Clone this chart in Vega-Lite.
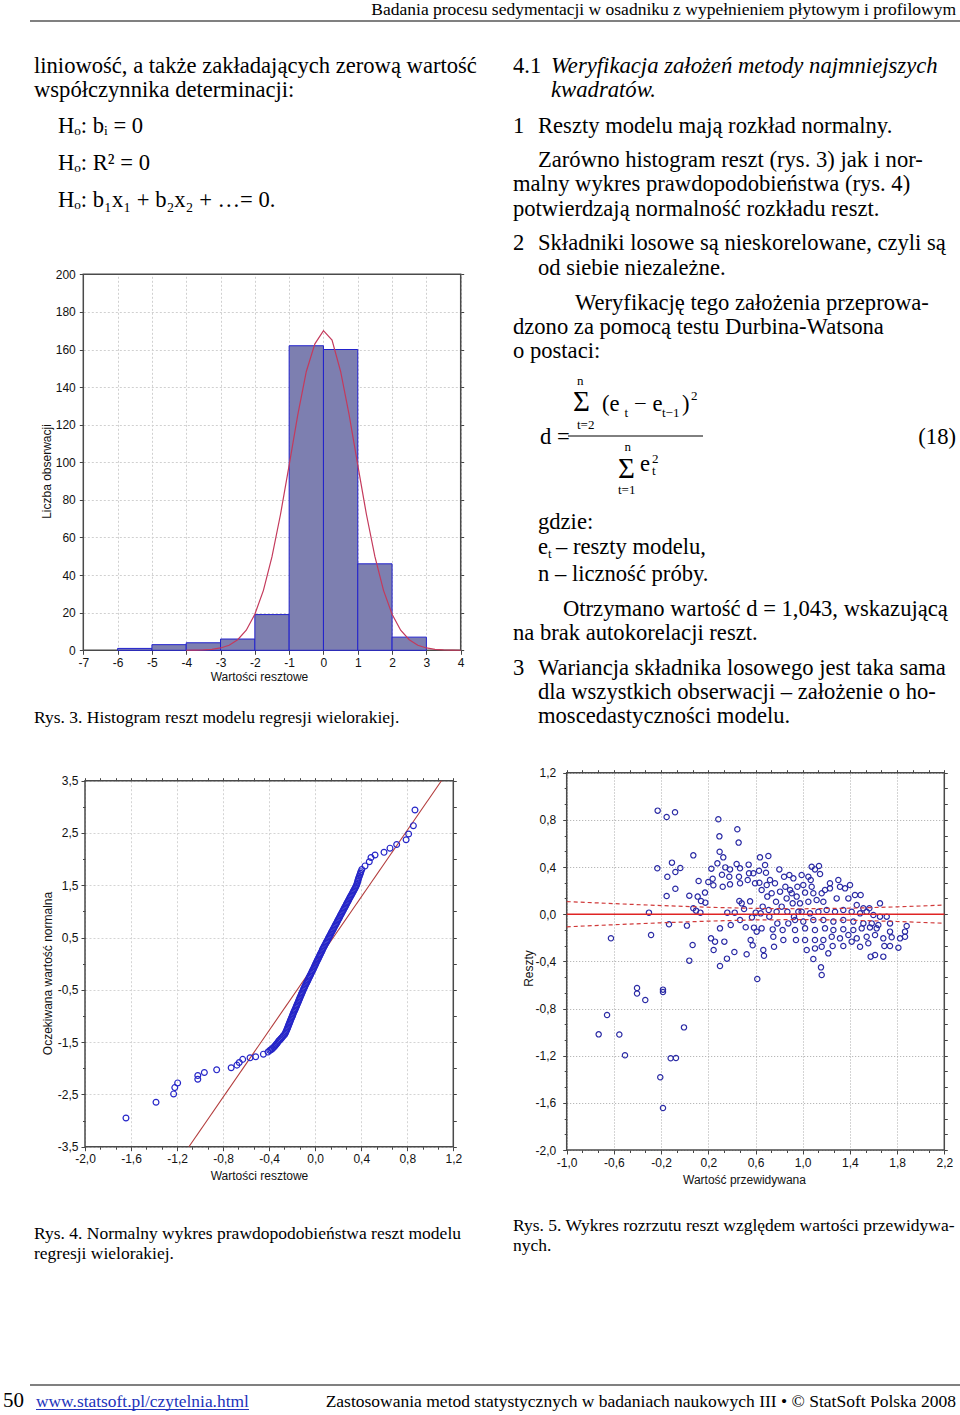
{
"$schema": "https://vega.github.io/schema/vega-lite/v6.json",
"width": 960, "height": 1415,
"autosize": {"type": "none"},
"padding": 0,
"background": "white",
"config": {
  "view": {"stroke": null},
  "locale": {"number": {"decimal": ",", "thousands": " ", "grouping": [3], "currency": ["", " zł"], "minus": "-"}},
  "axis": {"labelFont": "Liberation Sans", "labelFontSize": 12, "labelColor": "#111", "titleFont": "Liberation Sans", "titleFontSize": 12, "titleFontWeight": "normal", "titleColor": "#111", "tickColor": "#444", "tickSize": 4, "labelPadding": 3, "domain": false, "labelOverlap": false, "labelFlush": false, "gridWidth": 1}
},
"datasets": {
  "body": [
    {"t": "liniowość, a także zakładających zerową wartość", "c": 2, "r": 2},
    {"t": "współczynnika determinacji:", "c": 2, "r": 3},
    {"t": "Hₒ: bᵢ = 0", "c": 4, "r": 4},
    {"t": "Hₒ: R² = 0", "c": 4, "r": 6},
    {"t": "Hₒ: b₁x₁ + b₂x₂ + …= 0.", "c": 4, "r": 8},
    {"t": "4.1", "c": 6, "r": 2},
    {"t": "1", "c": 6, "r": 4},
    {"t": "Reszty modelu mają rozkład normalny.", "c": 7, "r": 4},
    {"t": "Zarówno histogram reszt (rys. 3) jak i nor-", "c": 7, "r": 5},
    {"t": "malny wykres prawdopodobieństwa (rys. 4)", "c": 6, "r": 7},
    {"t": "potwierdzają normalność rozkładu reszt.", "c": 6, "r": 9},
    {"t": "2", "c": 6, "r": 10},
    {"t": "Składniki losowe są nieskorelowane, czyli są", "c": 7, "r": 10},
    {"t": "od siebie niezależne.", "c": 7, "r": 11},
    {"t": "Weryfikację tego założenia przeprowa-", "c": 15, "r": 12},
    {"t": "dzono za pomocą testu Durbina-Watsona", "c": 6, "r": 13},
    {"t": "o postaci:", "c": 6, "r": 14},
    {"t": "d =", "c": 8, "r": 21},
    {"t": "(e", "c": 17, "r": 17},
    {"t": "− e", "c": 20, "r": 17},
    {"t": ")", "c": 24, "r": 17},
    {"t": "e", "c": 21, "r": 24},
    {"t": "gdzie:", "c": 7, "r": 28},
    {"t": "e", "c": 7, "r": 29},
    {"t": "– reszty modelu,", "c": 11, "r": 29},
    {"t": "n – liczność próby.", "c": 7, "r": 31},
    {"t": "Otrzymano wartość d = 1,043, wskazującą", "c": 12, "r": 32},
    {"t": "na brak autokorelacji reszt.", "c": 6, "r": 33},
    {"t": "3", "c": 6, "r": 34},
    {"t": "Wariancja składnika losowego jest taka sama", "c": 7, "r": 34},
    {"t": "dla wszystkich obserwacji – założenie o ho-", "c": 7, "r": 35},
    {"t": "moscedastyczności modelu.", "c": 7, "r": 36}
  ],
  "bodyRight": [{"t": "(18)", "c": 27, "r": 21}],
  "italic": [
    {"t": "Weryfikacja założeń metody najmniejszych", "c": 10, "r": 2},
    {"t": "kwadratów.", "c": 10, "r": 3}
  ],
  "small": [
    {"t": "n", "c": 16, "r": 15}, {"t": "t=2", "c": 16, "r": 19}, {"t": "t", "c": 19, "r": 18},
    {"t": "t−1", "c": 23, "r": 18}, {"t": "2", "c": 25, "r": 16}, {"t": "n", "c": 19, "r": 22},
    {"t": "2", "c": 22, "r": 23}, {"t": "t", "c": 22, "r": 25}, {"t": "t=1", "c": 18, "r": 27},
    {"t": "t", "c": 9, "r": 30}
  ],
  "sigma": [{"t": "Σ", "c": 14, "r": 17}, {"t": "Σ", "c": 18, "r": 26}],
  "caption": [
    {"t": "Rys. 3. Histogram reszt modelu regresji wielorakiej.", "c": 2, "r": 36},
    {"t": "Rys. 4. Normalny wykres prawdopodobieństwa reszt modelu", "c": 2, "r": 38},
    {"t": "regresji wielorakiej.", "c": 2, "r": 40},
    {"t": "Rys. 5. Wykres rozrzutu reszt względem wartości przewidywa-", "c": 6, "r": 37},
    {"t": "nych.", "c": 6, "r": 39}
  ],
  "running": [
    {"t": "Badania procesu sedymentacji w osadniku z wypełnieniem płytowym i profilowym", "c": 27, "r": 0},
    {"t": "Zastosowania metod statystycznych w badaniach naukowych III • © StatSoft Polska 2008", "c": 27, "r": 42}
  ],
  "pagenum": [{"t": "50", "c": 0, "r": 42}],
  "link": [{"t": "www.statsoft.pl/czytelnia.html", "c": 3, "r": 42}],
  "grayRules": [{"c": 1, "c2": 28, "r": 1}, {"c": 1, "c2": 28, "r": 41}],
  "fracRule": [{"c": 13, "c2": 26, "r": 20}],
  "linkRule": [{"c": 3, "c2": 5, "r": 43}],
  "hist": [
    {"lo": -6, "hi": -5, "n": 1}, {"lo": -5, "hi": -4, "n": 3}, {"lo": -4, "hi": -3, "n": 4},
    {"lo": -3, "hi": -2, "n": 6}, {"lo": -2, "hi": -1, "n": 19}, {"lo": -1, "hi": 0, "n": 162},
    {"lo": 0, "hi": 1, "n": 160}, {"lo": 1, "hi": 2, "n": 46}, {"lo": 2, "hi": 3, "n": 7}
  ],
  "curve": [
    {"x": -4, "f": 0.03}, {"x": -3.75, "f": 0.08}, {"x": -3.5, "f": 0.21}, {"x": -3.25, "f": 0.53},
    {"x": -3, "f": 1.25}, {"x": -2.75, "f": 2.7}, {"x": -2.5, "f": 5.6}, {"x": -2.25, "f": 10.7},
    {"x": -2, "f": 19.2}, {"x": -1.75, "f": 31.9}, {"x": -1.5, "f": 49.8}, {"x": -1.25, "f": 72.5},
    {"x": -1, "f": 98.5}, {"x": -0.75, "f": 125.1}, {"x": -0.5, "f": 148.3}, {"x": -0.25, "f": 163},
    {"x": 0, "f": 170}, {"x": 0.25, "f": 165}, {"x": 0.5, "f": 148.3}, {"x": 0.75, "f": 125.1},
    {"x": 1, "f": 98.5}, {"x": 1.25, "f": 72.5}, {"x": 1.5, "f": 49.8}, {"x": 1.75, "f": 31.9},
    {"x": 2, "f": 19.2}, {"x": 2.25, "f": 10.7}, {"x": 2.5, "f": 5.6}, {"x": 2.75, "f": 2.7},
    {"x": 3, "f": 1.25}, {"x": 3.25, "f": 0.53}, {"x": 3.5, "f": 0.21}, {"x": 3.75, "f": 0.08}, {"x": 4, "f": 0.03}
  ],
  "nline": [{"r": -1.097, "z": -3.5}, {"r": 1.097, "z": 3.5}],
  "npp": [
    {"r":-1.644,"z":-2.95},{"r":-1.383,"z":-2.65},{"r":-1.23,"z":-2.49},{"r":-1.22,"z":-2.37},{"r":-1.195,"z":-2.28},
    {"r":-1.02,"z":-2.21},{"r":-1.02,"z":-2.14},{"r":-0.963,"z":-2.08},{"r":-0.856,"z":-2.03},{"r":-0.73,"z":-1.99},
    {"r":-0.68,"z":-1.94},{"r":-0.66,"z":-1.89},{"r":-0.63,"z":-1.83},{"r":-0.566,"z":-1.8},{"r":-0.517,"z":-1.78},
    {"r":-0.45,"z":-1.73},{"r":-0.41,"z":-1.69},
    {"r":-0.395,"z":-1.66},{"r":-0.385,"z":-1.645},{"r":-0.375,"z":-1.63},{"r":-0.37,"z":-1.615},{"r":-0.36,"z":-1.6},
    {"r":-0.352,"z":-1.58},{"r":-0.345,"z":-1.56},{"r":-0.338,"z":-1.54},{"r":-0.33,"z":-1.52},{"r":-0.322,"z":-1.495},
    {"r":-0.315,"z":-1.475},{"r":-0.305,"z":-1.455},{"r":-0.298,"z":-1.435},{"r":-0.29,"z":-1.415},{"r":-0.282,"z":-1.395},
    {"r":-0.275,"z":-1.375},{"r":-0.265,"z":-1.355},{"r":-0.26,"z":-1.33},{"r":-0.255,"z":-1.305},{"r":-0.25,"z":-1.28},
    {"r":-0.245,"z":-1.255},{"r":-0.24,"z":-1.23},{"r":-0.236,"z":-1.205},{"r":-0.232,"z":-1.18},{"r":-0.228,"z":-1.16},
    {"r":-0.223,"z":-1.135},{"r":-0.219,"z":-1.11},{"r":-0.215,"z":-1.085},{"r":-0.21,"z":-1.06},{"r":-0.205,"z":-1.035},
    {"r":-0.2,"z":-1.01},{"r":-0.196,"z":-0.985},{"r":-0.192,"z":-0.96},{"r":-0.187,"z":-0.935},{"r":-0.182,"z":-0.91},
    {"r":-0.177,"z":-0.885},{"r":-0.172,"z":-0.86},{"r":-0.167,"z":-0.835},{"r":-0.162,"z":-0.81},{"r":-0.158,"z":-0.785},
    {"r":-0.153,"z":-0.76},{"r":-0.148,"z":-0.735},{"r":-0.143,"z":-0.71},{"r":-0.139,"z":-0.685},{"r":-0.134,"z":-0.66},
    {"r":-0.13,"z":-0.635},{"r":-0.124,"z":-0.61},{"r":-0.12,"z":-0.585},{"r":-0.115,"z":-0.56},{"r":-0.11,"z":-0.535},
    {"r":-0.105,"z":-0.51},{"r":-0.1,"z":-0.485},{"r":-0.095,"z":-0.46},{"r":-0.09,"z":-0.435},{"r":-0.085,"z":-0.41},
    {"r":-0.079,"z":-0.385},{"r":-0.073,"z":-0.36},{"r":-0.068,"z":-0.335},{"r":-0.062,"z":-0.31},{"r":-0.057,"z":-0.285},
    {"r":-0.051,"z":-0.26},{"r":-0.046,"z":-0.235},{"r":-0.04,"z":-0.21},{"r":-0.035,"z":-0.185},{"r":-0.029,"z":-0.16},
    {"r":-0.024,"z":-0.135},{"r":-0.018,"z":-0.11},{"r":-0.013,"z":-0.085},{"r":-0.007,"z":-0.06},{"r":-0.002,"z":-0.035},
    {"r":0.003,"z":-0.01},{"r":0.008,"z":0.015},{"r":0.014,"z":0.04},{"r":0.019,"z":0.065},{"r":0.025,"z":0.09},
    {"r":0.03,"z":0.115},{"r":0.036,"z":0.14},{"r":0.041,"z":0.165},{"r":0.047,"z":0.19},{"r":0.052,"z":0.215},
    {"r":0.058,"z":0.24},{"r":0.063,"z":0.265},{"r":0.068,"z":0.29},{"r":0.074,"z":0.315},{"r":0.08,"z":0.34},
    {"r":0.086,"z":0.365},{"r":0.092,"z":0.39},{"r":0.098,"z":0.415},{"r":0.104,"z":0.44},{"r":0.11,"z":0.465},
    {"r":0.116,"z":0.49},{"r":0.122,"z":0.515},{"r":0.128,"z":0.54},{"r":0.134,"z":0.565},{"r":0.14,"z":0.59},
    {"r":0.146,"z":0.615},{"r":0.152,"z":0.64},{"r":0.158,"z":0.665},{"r":0.164,"z":0.69},{"r":0.17,"z":0.715},
    {"r":0.176,"z":0.74},{"r":0.182,"z":0.765},{"r":0.188,"z":0.79},{"r":0.194,"z":0.815},{"r":0.2,"z":0.84},
    {"r":0.206,"z":0.865},{"r":0.212,"z":0.89},{"r":0.218,"z":0.915},{"r":0.224,"z":0.94},{"r":0.23,"z":0.965},
    {"r":0.236,"z":0.99},{"r":0.242,"z":1.015},{"r":0.248,"z":1.04},{"r":0.254,"z":1.065},{"r":0.26,"z":1.09},
    {"r":0.266,"z":1.115},{"r":0.272,"z":1.14},{"r":0.278,"z":1.165},{"r":0.284,"z":1.19},{"r":0.29,"z":1.215},
    {"r":0.296,"z":1.24},{"r":0.302,"z":1.265},{"r":0.308,"z":1.29},{"r":0.315,"z":1.315},{"r":0.321,"z":1.34},
    {"r":0.327,"z":1.365},{"r":0.333,"z":1.39},{"r":0.339,"z":1.415},{"r":0.345,"z":1.44},{"r":0.351,"z":1.465},
    {"r":0.357,"z":1.49},{"r":0.362,"z":1.52},{"r":0.366,"z":1.55},{"r":0.37,"z":1.58},{"r":0.374,"z":1.61},
    {"r":0.378,"z":1.64},{"r":0.383,"z":1.67},{"r":0.388,"z":1.7},{"r":0.393,"z":1.73},{"r":0.397,"z":1.76},
    {"r":0.405,"z":1.8},{"r":0.433,"z":1.87},{"r":0.47,"z":1.95},{"r":0.485,"z":2.03},{"r":0.52,"z":2.08},
    {"r":0.598,"z":2.13},{"r":0.65,"z":2.21},{"r":0.708,"z":2.28},{"r":0.79,"z":2.37},{"r":0.812,"z":2.48},
    {"r":0.853,"z":2.64},{"r":0.867,"z":2.94}
  ],
  "band": [
    {"p": -1, "fit": 0, "lo": -0.107, "hi": 0.107}, {"p": -0.6, "fit": 0, "lo": -0.0895, "hi": 0.0895},
    {"p": -0.2, "fit": 0, "lo": -0.0731, "hi": 0.0731}, {"p": 0.2, "fit": 0, "lo": -0.0589, "hi": 0.0589},
    {"p": 0.6, "fit": 0, "lo": -0.0488, "hi": 0.0488}, {"p": 1.0, "fit": 0, "lo": -0.0457, "hi": 0.0457},
    {"p": 1.4, "fit": 0, "lo": -0.0508, "hi": 0.0508}, {"p": 1.8, "fit": 0, "lo": -0.0621, "hi": 0.0621},
    {"p": 2.2, "fit": 0, "lo": -0.077, "hi": 0.077}
  ],
  "scat": [
    {"p":-0.229,"e":0.878},{"p":-0.153,"e":0.824},{"p":-0.082,"e":0.865},{"p":0.285,"e":0.805},{"p":0.294,"e":0.66},
    {"p":0.446,"e":0.72},{"p":-0.625,"e":-0.204},{"p":-0.404,"e":-0.626},{"p":-0.404,"e":-0.673},{"p":-0.184,"e":-0.64},
    {"p":-0.184,"e":-0.66},{"p":-0.334,"e":-0.728},{"p":-0.658,"e":-0.855},{"p":-0.729,"e":-1.019},{"p":-0.554,"e":-1.02},
    {"p":-0.506,"e":-1.197},{"p":-0.006,"e":-0.96},{"p":-0.119,"e":-1.222},{"p":-0.074,"e":-1.22},{"p":-0.207,"e":-1.383},
    {"p":-0.184,"e":-1.644},{"p":1.09,"e":-0.38},
    {"p":-0.303,"e":0.013},{"p":-0.285,"e":-0.177},{"p":-0.232,"e":0.389},{"p":-0.147,"e":0.318},{"p":-0.108,"e":0.437},
    {"p":-0.079,"e":0.358},{"p":-0.037,"e":0.392},{"p":-0.079,"e":0.216},{"p":-0.153,"e":0.154},{"p":-0.133,"e":-0.086},
    {"p":0.019,"e":-0.097},{"p":0.039,"e":0.157},{"p":0.073,"e":0.499},{"p":0.067,"e":-0.261},{"p":0.039,"e":-0.394},
    {"p":0.073,"e":0.05},{"p":0.096,"e":0.03},{"p":0.133,"e":0.013},{"p":0.118,"e":0.281},{"p":0.11,"e":0.149},
    {"p":0.138,"e":0.112},{"p":0.175,"e":0.098},{"p":0.172,"e":0.183},{"p":0.2,"e":0.273},{"p":0.226,"e":0.386},
    {"p":0.237,"e":0.301},{"p":0.243,"e":0.245},{"p":0.223,"e":-0.205},{"p":0.257,"e":-0.233},{"p":0.299,"e":-0.12},
    {"p":0.245,"e":-0.304},{"p":0.299,"e":-0.44},{"p":0.296,"e":0.53},{"p":0.277,"e":0.431},{"p":0.327,"e":0.482},
    {"p":0.316,"e":0.335},{"p":0.322,"e":0.233},{"p":0.344,"e":0.397},{"p":0.361,"e":0.013},{"p":0.378,"e":0.318},
    {"p":0.384,"e":0.38},{"p":0.384,"e":0.253},{"p":0.39,"e":-0.092},{"p":0.336,"e":-0.233},{"p":0.358,"e":-0.377},
    {"p":0.421,"e":-0.321},{"p":0.424,"e":0.013},{"p":0.44,"e":0.426},{"p":0.457,"e":0.607},{"p":0.46,"e":0.318},
    {"p":0.469,"e":0.389},{"p":0.469,"e":0.262},{"p":0.463,"e":0.112},{"p":0.483,"e":0.092},{"p":0.469,"e":-0.049},
    {"p":0.503,"e":0.044},{"p":0.517,"e":-0.111},{"p":0.525,"e":-0.34},{"p":0.542,"e":0.42},{"p":0.545,"e":0.347},
    {"p":0.534,"e":0.29},{"p":0.554,"e":0.109},{"p":0.559,"e":-0.219},{"p":0.576,"e":-0.264},{"p":0.57,"e":-0.027},
    {"p":0.582,"e":0.347},{"p":0.596,"e":0.262},{"p":0.602,"e":0.013},{"p":0.587,"e":-0.114},{"p":0.61,"e":-0.148},
    {"p":0.615,"e":-0.55},{"p":0.63,"e":0.369},{"p":0.638,"e":0.482},{"p":0.633,"e":0.267},{"p":0.644,"e":0.007},
    {"p":0.652,"e":0.205},{"p":0.661,"e":0.064},{"p":0.652,"e":-0.12},{"p":0.666,"e":-0.304},{"p":0.672,"e":-0.352},
    {"p":0.681,"e":0.417},{"p":0.689,"e":0.352},{"p":0.695,"e":0.248},{"p":0.7,"e":0.149},{"p":0.709,"e":0.494},
    {"p":0.712,"e":0.036},{"p":0.717,"e":-0.021},{"p":0.723,"e":0.29},{"p":0.737,"e":0.177},{"p":0.746,"e":-0.129},
    {"p":0.751,"e":-0.191},{"p":0.757,"e":-0.276},{"p":0.765,"e":0.262},{"p":0.774,"e":0.106},{"p":0.779,"e":0.021},
    {"p":0.785,"e":-0.078},{"p":0.802,"e":0.38},{"p":0.808,"e":0.191},{"p":0.822,"e":0.064},{"p":0.83,"e":-0.134},
    {"p":0.836,"e":-0.219},{"p":0.842,"e":0.318},{"p":0.853,"e":0.233},{"p":0.864,"e":0.134},{"p":0.87,"e":0.021},
    {"p":0.878,"e":-0.078},{"p":0.887,"e":0.332},{"p":0.907,"e":0.177},{"p":0.915,"e":0.092},{"p":0.921,"e":0.304},
    {"p":0.926,"e":-0.021},{"p":0.935,"e":-0.134},{"p":0.943,"e":-0.219},{"p":0.955,"e":0.233},{"p":0.963,"e":0.021},
    {"p":1.076,"e":0.403},{"p":1.104,"e":0.38},{"p":1.138,"e":0.409},{"p":1.147,"e":0.341},{"p":0.991,"e":0.332},
    {"p":1.068,"e":0.29},{"p":0.893,"e":0.205},{"p":1.005,"e":0.248},{"p":1.076,"e":0.233},{"p":0.949,"e":0.149},
    {"p":1.02,"e":0.183},{"p":1.09,"e":0.177},{"p":0.977,"e":0.092},{"p":1.048,"e":0.106},{"p":1.118,"e":0.12},
    {"p":1.161,"e":0.177},{"p":1.175,"e":0.106},{"p":1.231,"e":0.219},{"p":1.302,"e":0.29},{"p":1.316,"e":0.233},
    {"p":1.359,"e":0.219},{"p":1.387,"e":0.134},{"p":1.443,"e":0.163},{"p":1.491,"e":0.163},{"p":1.458,"e":0.078},
    {"p":1.514,"e":0.05},{"p":1.565,"e":0.05},{"p":1.655,"e":0.092},{"p":0.991,"e":0.021},{"p":1.062,"e":0.007},
    {"p":1.133,"e":0.021},{"p":1.203,"e":0.036},{"p":1.274,"e":0.021},{"p":1.344,"e":0.036},{"p":1.415,"e":0.021},
    {"p":1.486,"e":0.007},{"p":1.542,"e":0.021},{"p":1.599,"e":-0.007},{"p":1.655,"e":-0.021},{"p":1.712,"e":-0.021},
    {"p":0.935,"e":-0.049},{"p":1.005,"e":-0.063},{"p":1.09,"e":-0.049},{"p":1.175,"e":-0.049},{"p":1.26,"e":-0.063},
    {"p":1.344,"e":-0.049},{"p":1.429,"e":-0.063},{"p":1.514,"e":-0.078},{"p":1.585,"e":-0.078},{"p":1.641,"e":-0.092},
    {"p":1.74,"e":-0.078},{"p":1.02,"e":-0.12},{"p":1.104,"e":-0.134},{"p":1.189,"e":-0.12},{"p":1.26,"e":-0.134},
    {"p":1.344,"e":-0.128},{"p":1.429,"e":-0.134},{"p":1.5,"e":-0.12},{"p":1.57,"e":-0.112},{"p":1.627,"e":-0.12},
    {"p":1.74,"e":-0.148},{"p":1.881,"e":-0.1},{"p":1.867,"e":-0.148},{"p":1.02,"e":-0.219},{"p":1.104,"e":-0.219},
    {"p":1.175,"e":-0.219},{"p":1.246,"e":-0.191},{"p":1.316,"e":-0.205},{"p":1.387,"e":-0.177},{"p":1.458,"e":-0.205},
    {"p":1.542,"e":-0.191},{"p":1.613,"e":-0.177},{"p":1.683,"e":-0.205},{"p":1.754,"e":-0.196},{"p":1.825,"e":-0.205},
    {"p":1.867,"e":-0.191},{"p":1.034,"e":-0.304},{"p":1.104,"e":-0.29},{"p":1.161,"e":-0.276},{"p":1.217,"e":-0.332},
    {"p":1.254,"e":-0.27},{"p":1.344,"e":-0.27},{"p":1.415,"e":-0.233},{"p":1.486,"e":-0.276},{"p":1.556,"e":-0.247},
    {"p":1.692,"e":-0.27},{"p":1.74,"e":-0.27},{"p":1.811,"e":-0.284},{"p":1.576,"e":-0.36},{"p":1.613,"e":-0.346},
    {"p":1.683,"e":-0.36},{"p":1.155,"e":-0.451},{"p":1.161,"e":-0.516},{"p":1.231,"e":0.262},{"p":1.288,"e":0.134},
    {"p":1.401,"e":0.248},{"p":1.189,"e":0.205},{"p":1.048,"e":0.318}
  ]
},
"layer": [
  {
    "encoding": {
      "x": {"field": "c", "type": "quantitative", "axis": null, "scale": {"domain": [0,1,2,3,4,5,6,7,8,9,10,11,12,13,14,15,16,17,18,19,20,21,22,23,24,25,26,27,28], "range": [3,30,34,36,58,249,513,538,540,548,551,556,563,568,573,575,577,602,618,624.5,634,640,652,662,682,691,703,956,960], "nice": false, "zero": false}},
      "y": {"field": "r", "type": "quantitative", "axis": null, "scale": {"domain": [0,1,2,3,4,5,6,7,8,9,10,11,12,13,14,15,16,17,18,19,20,21,22,23,24,25,26,27,28,29,30,31,32,33,34,35,36,37,38,39,40,41,42,43], "range": [15,21,72.5,97,133,166.5,170,191,207,215.5,250,274.5,310,334,358,384.5,400,411,416.5,428.5,436,444,450.5,462.5,471,475,477.5,493.5,529,554,557.5,580.5,616,640,675,699,723,1230.5,1238.5,1250.5,1258.5,1385,1407,1409.5], "nice": false, "zero": false}}
    },
    "layer": [
      {"data": {"name": "grayRules"}, "mark": {"type": "rule", "color": "#808080", "strokeWidth": 2}, "encoding": {"x2": {"field": "c2"}}},
      {"data": {"name": "fracRule"}, "mark": {"type": "rule", "color": "#000", "strokeWidth": 1}, "encoding": {"x2": {"field": "c2"}}},
      {"data": {"name": "linkRule"}, "mark": {"type": "rule", "color": "#2233bb", "strokeWidth": 1}, "encoding": {"x2": {"field": "c2"}}},
      {"data": {"name": "body"}, "mark": {"type": "text", "font": "Liberation Serif", "fontSize": 22.6, "baseline": "alphabetic", "align": "left", "color": "#000"}, "encoding": {"text": {"field": "t"}}},
      {"data": {"name": "bodyRight"}, "mark": {"type": "text", "font": "Liberation Serif", "fontSize": 22.6, "baseline": "alphabetic", "align": "right", "color": "#000"}, "encoding": {"text": {"field": "t"}}},
      {"data": {"name": "italic"}, "mark": {"type": "text", "font": "Liberation Serif", "fontStyle": "italic", "fontSize": 22.7, "baseline": "alphabetic", "align": "left", "color": "#000"}, "encoding": {"text": {"field": "t"}}},
      {"data": {"name": "small"}, "mark": {"type": "text", "font": "Liberation Serif", "fontSize": 13, "baseline": "alphabetic", "align": "left", "color": "#000"}, "encoding": {"text": {"field": "t"}}},
      {"data": {"name": "sigma"}, "mark": {"type": "text", "font": "Liberation Serif", "fontSize": 29, "baseline": "alphabetic", "align": "left", "color": "#000"}, "encoding": {"text": {"field": "t"}}},
      {"data": {"name": "caption"}, "mark": {"type": "text", "font": "Liberation Serif", "fontSize": 17.5, "baseline": "alphabetic", "align": "left", "color": "#000"}, "encoding": {"text": {"field": "t"}}},
      {"data": {"name": "running"}, "mark": {"type": "text", "font": "Liberation Serif", "fontSize": 17.5, "baseline": "alphabetic", "align": "right", "color": "#000"}, "encoding": {"text": {"field": "t"}}},
      {"data": {"name": "pagenum"}, "mark": {"type": "text", "font": "Liberation Serif", "fontSize": 21, "baseline": "alphabetic", "align": "left", "color": "#000"}, "encoding": {"text": {"field": "t"}}},
      {"data": {"name": "link"}, "mark": {"type": "text", "font": "Liberation Serif", "fontSize": 17.4, "baseline": "alphabetic", "align": "left", "color": "#2233bb"}, "encoding": {"text": {"field": "t"}}}
    ]
  },
  {
    "layer": [
      {"data": {"values": [{}]}, "mark": {"type": "rect", "fill": null, "stroke": "#4a4a4a", "strokeWidth": 1.5},
       "encoding": {
         "x": {"datum": -7, "type": "quantitative", "scale": {"domain": [-7,4], "range": [83.3,460.7], "nice": false, "zero": false}, "axis": null},
         "x2": {"datum": 4},
         "y": {"datum": 0, "type": "quantitative", "scale": {"domain": [0,200], "range": [650.3,274.3], "nice": false, "zero": false}, "axis": null},
         "y2": {"datum": 200}
       }},
      {"data": {"name": "hist"}, "mark": {"type": "rect", "fill": "#7d7fb0", "stroke": "#2222cc", "strokeWidth": 1},
       "encoding": {
         "x": {"field": "lo", "type": "quantitative", "scale": {"domain": [-7,4], "range": [83.3,460.7], "nice": false, "zero": false},
               "axis": {"orient": "bottom", "offset": -764.7, "grid": false, "values": [-7,-6,-5,-4,-3,-2,-1,0,1,2,3,4], "format": "d", "title": "Wartości resztowe", "titlePadding": 3, "titleX": 259}},
         "x2": {"field": "hi"},
         "y": {"field": "n", "type": "quantitative", "scale": {"domain": [0,200], "range": [650.3,274.3], "nice": false, "zero": false},
               "axis": {"orient": "left", "offset": -83.3, "grid": true, "gridColor": "#d0d0d0", "gridDash": [2,2], "values": [0,20,40,60,80,100,120,140,160,180,200], "format": "d", "title": "Liczba obserwacji", "titlePadding": 2, "titleY": 471, "labelPadding": 4}},
         "y2": {"datum": 0}
       }},
      {"data": {"name": "curve"}, "mark": {"type": "line", "color": "#c43a5c", "strokeWidth": 1.2},
       "encoding": {
         "x": {"field": "x", "type": "quantitative", "scale": {"domain": [-7,4], "range": [83.3,460.7], "nice": false, "zero": false},
               "axis": {"orient": "top", "grid": true, "gridColor": "#d0d0d0", "gridDash": [2,2], "labels": false, "ticks": false, "title": null, "values": [-7,-6,-5,-4,-3,-2,-1,0,1,2,3,4]}},
         "y": {"field": "f", "type": "quantitative", "scale": {"domain": [0,200], "range": [650.3,274.3], "nice": false, "zero": false},
               "axis": {"orient": "right", "offset": -499.3, "grid": false, "labels": false, "title": null, "tickSize": 3, "values": [0,20,40,60,80,100,120,140,160,180,200]}}
       }}
    ]
  },
  {
    "layer": [
      {"data": {"values": [{}]}, "mark": {"type": "rect", "fill": null, "stroke": "#4a4a4a", "strokeWidth": 1.5},
       "encoding": {
         "x": {"datum": -2, "type": "quantitative", "scale": {"domain": [-2,1.2], "range": [85,453.3], "nice": false, "zero": false}, "axis": null},
         "x2": {"datum": 1.2},
         "y": {"datum": -3.5, "type": "quantitative", "scale": {"domain": [-3.5,3.5], "range": [1146.7,780.7], "nice": false, "zero": false}, "axis": null},
         "y2": {"datum": 3.5}
       }},
      {"data": {"name": "nline"}, "mark": {"type": "line", "color": "#b23a3a", "strokeWidth": 1.1},
       "encoding": {
         "x": {"field": "r", "type": "quantitative", "scale": {"domain": [-2,1.2], "range": [85,453.3], "nice": false, "zero": false},
               "axis": {"orient": "top", "offset": -780.7, "grid": true, "gridColor": "#d4d4d4", "gridDash": [2,2],
                        "gridOpacity": {"condition": {"test": "abs(datum.value*10 - round(datum.value*10)) < 0.01", "value": 1}, "value": 0},
                        "labels": false, "ticks": true, "tickSize": 3, "title": null,
                        "values": [-2,-1.8667,-1.7333,-1.6,-1.4667,-1.3333,-1.2,-1.0667,-0.9333,-0.8,-0.6667,-0.5333,-0.4,-0.2667,-0.1333,0,0.1333,0.2667,0.4,0.5333,0.6667,0.8,0.9333,1.0667,1.2]}},
         "y": {"field": "z", "type": "quantitative", "scale": {"domain": [-3.5,3.5], "range": [1146.7,780.7], "nice": false, "zero": false},
               "axis": {"orient": "right", "offset": -506.7, "grid": false, "labels": false, "title": null, "tickSize": 3, "values": [-3.5,-3,-2.5,-2,-1.5,-1,-0.5,0,0.5,1,1.5,2,2.5,3,3.5]}}
       }},
      {"data": {"name": "npp"}, "mark": {"type": "point", "shape": "circle", "filled": false, "size": 34, "strokeWidth": 1.2, "color": "#2626c8", "opacity": 1},
       "encoding": {
         "x": {"field": "r", "type": "quantitative", "scale": {"domain": [-2,1.2], "range": [85,453.3], "nice": false, "zero": false},
               "axis": {"orient": "bottom", "offset": -268.3, "grid": false,
                        "values": [-2,-1.8667,-1.7333,-1.6,-1.4667,-1.3333,-1.2,-1.0667,-0.9333,-0.8,-0.6667,-0.5333,-0.4,-0.2667,-0.1333,0,0.1333,0.2667,0.4,0.5333,0.6667,0.8,0.9333,1.0667,1.2],
                        "format": ".1f", "labelExpr": "abs(datum.value*10 - round(datum.value*10)) < 0.01 ? datum.label : ''",
                        "tickSize": {"condition": {"test": "abs(datum.value*10 - round(datum.value*10)) < 0.01", "value": 4}, "value": 2.5},
                        "title": "Wartości resztowe", "titlePadding": 6, "titleX": 259}},
         "y": {"field": "z", "type": "quantitative", "scale": {"domain": [-3.5,3.5], "range": [1146.7,780.7], "nice": false, "zero": false},
               "axis": {"orient": "left", "offset": -85, "grid": true, "gridColor": "#d4d4d4", "gridDash": [2,2],
                        "gridOpacity": {"condition": {"test": "abs(datum.value % 1) > 0.25", "value": 1}, "value": 0},
                        "values": [-3.5,-3,-2.5,-2,-1.5,-1,-0.5,0,0.5,1,1.5,2,2.5,3,3.5], "format": ".1f",
                        "labelExpr": "abs(datum.value % 1) > 0.25 ? datum.label : ''",
                        "tickSize": {"condition": {"test": "abs(datum.value % 1) > 0.25", "value": 4}, "value": 2.5},
                        "title": "Oczekiwana wartość normalna", "titlePadding": 3, "titleY": 973, "labelPadding": 3}}
       }}
    ]
  },
  {
    "layer": [
      {"data": {"values": [{}]}, "mark": {"type": "rect", "fill": null, "stroke": "#4a4a4a", "strokeWidth": 1.5},
       "encoding": {
         "x": {"datum": -1, "type": "quantitative", "scale": {"domain": [-1,2.2], "range": [566.7,944.3], "nice": false, "zero": false}, "axis": null},
         "x2": {"datum": 2.2},
         "y": {"datum": -2, "type": "quantitative", "scale": {"domain": [-2,1.2], "range": [1150,772.7], "nice": false, "zero": false}, "axis": null},
         "y2": {"datum": 1.2}
       }},
      {"data": {"name": "scat"}, "mark": {"type": "point", "shape": "circle", "filled": false, "size": 28, "strokeWidth": 1.2, "color": "#2b2ba5", "opacity": 1},
       "encoding": {
         "x": {"field": "p", "type": "quantitative", "scale": {"domain": [-1,2.2], "range": [566.7,944.3], "nice": false, "zero": false},
               "axis": {"orient": "bottom", "offset": -265, "grid": false,
                        "values": [-1,-0.8667,-0.7333,-0.6,-0.4667,-0.3333,-0.2,-0.0667,0.0667,0.2,0.3333,0.4667,0.6,0.7333,0.8667,1,1.1333,1.2667,1.4,1.5333,1.6667,1.8,1.9333,2.0667,2.2],
                        "format": ".1f", "labelExpr": "abs(datum.value*10 - round(datum.value*10)) < 0.01 ? datum.label : ''",
                        "tickSize": {"condition": {"test": "abs(datum.value*10 - round(datum.value*10)) < 0.01", "value": 4}, "value": 2.5},
                        "title": "Wartość przewidywana", "titlePadding": 6, "titleX": 744}},
         "y": {"field": "e", "type": "quantitative", "scale": {"domain": [-2,1.2], "range": [1150,772.7], "nice": false, "zero": false},
               "axis": {"orient": "left", "offset": -566.7, "grid": true, "gridColor": "#a8a8a8", "gridDash": [1,2],
                        "gridOpacity": {"condition": {"test": "abs(datum.value*10 - round(datum.value*10)) < 0.01", "value": 1}, "value": 0},
                        "values": [-2,-1.8667,-1.7333,-1.6,-1.4667,-1.3333,-1.2,-1.0667,-0.9333,-0.8,-0.6667,-0.5333,-0.4,-0.2667,-0.1333,0,0.1333,0.2667,0.4,0.5333,0.6667,0.8,0.9333,1.0667,1.2],
                        "format": ".1f", "labelExpr": "abs(datum.value*10 - round(datum.value*10)) < 0.01 ? datum.label : ''",
                        "tickSize": {"condition": {"test": "abs(datum.value*10 - round(datum.value*10)) < 0.01", "value": 4}, "value": 2.5},
                        "title": "Reszty", "titlePadding": 0, "titleY": 968, "labelPadding": 7}}
       }},
      {"data": {"name": "band"}, "mark": {"type": "line", "color": "#d03a3a", "strokeWidth": 1.2, "strokeDash": [4,3]},
       "encoding": {
         "x": {"field": "p", "type": "quantitative", "scale": {"domain": [-1,2.2], "range": [566.7,944.3], "nice": false, "zero": false},
               "axis": {"orient": "top", "offset": -772.7, "grid": true, "gridColor": "#a8a8a8", "gridDash": [1,2],
                        "gridOpacity": {"condition": {"test": "abs(datum.value*10 - round(datum.value*10)) < 0.01", "value": 1}, "value": 0},
                        "labels": false, "ticks": true, "tickSize": 3, "title": null,
                        "values": [-1,-0.8667,-0.7333,-0.6,-0.4667,-0.3333,-0.2,-0.0667,0.0667,0.2,0.3333,0.4667,0.6,0.7333,0.8667,1,1.1333,1.2667,1.4,1.5333,1.6667,1.8,1.9333,2.0667,2.2]}},
         "y": {"field": "hi", "type": "quantitative", "scale": {"domain": [-2,1.2], "range": [1150,772.7], "nice": false, "zero": false},
               "axis": {"orient": "right", "offset": -15.7, "grid": false, "labels": false, "title": null, "tickSize": 3,
                        "values": [-2,-1.8667,-1.7333,-1.6,-1.4667,-1.3333,-1.2,-1.0667,-0.9333,-0.8,-0.6667,-0.5333,-0.4,-0.2667,-0.1333,0,0.1333,0.2667,0.4,0.5333,0.6667,0.8,0.9333,1.0667,1.2]}}
       }},
      {"data": {"name": "band"}, "mark": {"type": "line", "color": "#d03a3a", "strokeWidth": 1.2, "strokeDash": [4,3]},
       "encoding": {
         "x": {"field": "p", "type": "quantitative", "scale": {"domain": [-1,2.2], "range": [566.7,944.3], "nice": false, "zero": false}, "axis": null},
         "y": {"field": "lo", "type": "quantitative", "scale": {"domain": [-2,1.2], "range": [1150,772.7], "nice": false, "zero": false}, "axis": null}
       }},
      {"data": {"name": "band"}, "mark": {"type": "line", "color": "#e02424", "strokeWidth": 1.4},
       "encoding": {
         "x": {"field": "p", "type": "quantitative", "scale": {"domain": [-1,2.2], "range": [566.7,944.3], "nice": false, "zero": false}, "axis": null},
         "y": {"field": "fit", "type": "quantitative", "scale": {"domain": [-2,1.2], "range": [1150,772.7], "nice": false, "zero": false}, "axis": null}
       }}
    ]
  }
],
"resolve": {"scale": {"x": "independent", "y": "independent"}, "axis": {"x": "independent", "y": "independent"}}
}
